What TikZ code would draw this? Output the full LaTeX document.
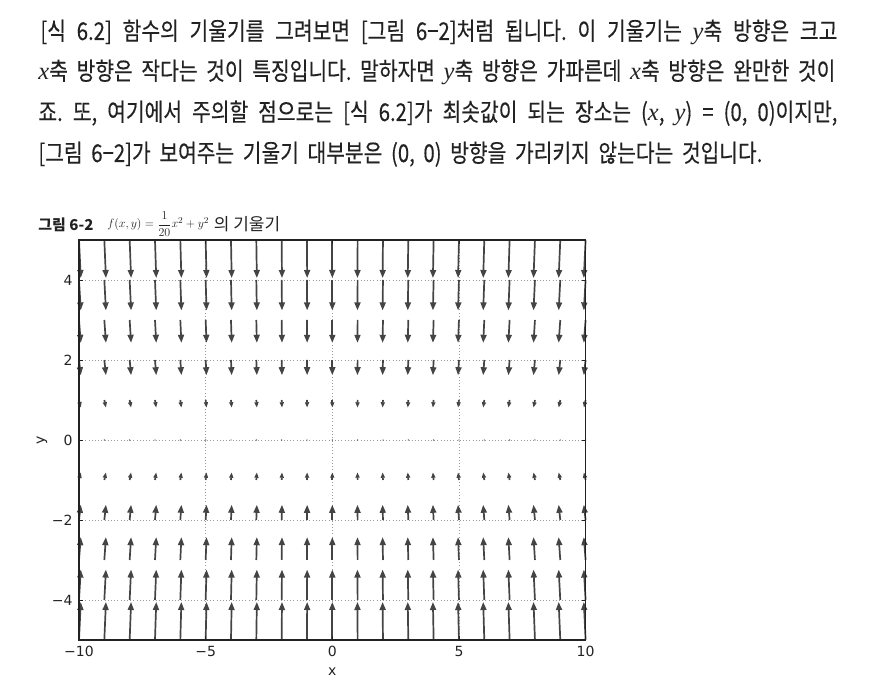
\documentclass[tikz,border=0pt]{standalone}
\usepackage{fontspec}
\usepackage{amsmath}
\usetikzlibrary{arrows.meta,positioning}
\newfontfamily\kr{Noto Sans CJK KR}[FakeStretch=0.83, FakeBold=0.3]
\newfontfamily\krcap{Noto Sans CJK KR}
\newfontfamily\mpl{DejaVu Sans}
\newfontfamily\lserif{Liberation Serif}
\newcommand\mvar[1]{{\lserif\itshape #1}}
\definecolor{ink}{HTML}{222222}
\definecolor{quiv}{HTML}{444444}
\definecolor{gridc}{HTML}{9A9A9A}
\frenchspacing

\begin{document}
\begin{tikzpicture}[x=1pt, y=1pt, line width=0.8pt,
    body/.style={anchor=base west, inner sep=0pt, text=ink, font=\kr\fontsize{24.5}{28}\selectfont},
    tl/.style={inner sep=0pt, text=ink, font=\mpl\fontsize{14}{16}\selectfont},
    gridl/.style={gridc, line width=0.9pt, dash pattern=on 1pt off 2.2pt},
    quiver/.style={quiv, line width=1.7pt}]
  \useasboundingbox (0,0) rectangle (877,692);

  % paragraph
  \node[body] (l1) at (40,652) {\makebox[797pt][s]{[식 6.2] 함수의 기울기를 그려보면 [그림 6−2]처럼 됩니다. 이 기울기는 \mvar{y}축 방향은 크고}};
  \node[body] (l2) at (38,612) {\makebox[797pt][s]{\mvar{x}축 방향은 작다는 것이 특징입니다. 말하자면 \mvar{y}축 방향은 가파른데 \mvar{x}축 방향은 완만한 것이}};
  \node[body] (l3) at (38,571) {\makebox[799pt][s]{죠. 또, 여기에서 주의할 점으로는 [식 6.2]가 최솟값이 되는 장소는 (\mvar{x}, \mvar{y}) = (0, 0)이지만,}};
  \node[body] (l4) at (38,530) {\makebox[724pt][s]{[그림 6−2]가 보여주는 기울기 대부분은 (0, 0) 방향을 가리키지 않는다는 것입니다.}};

  % caption
  \node[anchor=base west, inner sep=0pt, text=ink, font=\krcap\bfseries\fontsize{15}{18}\selectfont] (fig) at (38,461) {그림 6-2};
  \node[right=13pt of fig.base east, anchor=base west, yshift=3pt, inner sep=0pt, text=ink, font=\fontsize{12.2}{14}\selectfont] (eq) {$f(x,y)=\dfrac{1}{20}x^2+y^2$};
  \node[right=4pt of eq.base east, anchor=base west, yshift=-3pt, inner sep=0pt, text=ink, font=\krcap\fontsize{17}{20}\selectfont] (cap) {의 기울기};

  % plot, data coordinates
  \begin{scope}[shift={(332.3,252)}, x=25.33pt, y=40pt]
    \foreach \t in {-5,0,5} \draw[gridl] (\t,-5) -- (\t,5);
    \foreach \t in {-4,-2,0,2,4} \draw[gridl] (-10,\t) -- (10,\t);

    \foreach \i in {-10,...,10}{
      \foreach \j in {-5,...,5}{
        \ifnum\j=0
          \fill[quiv] (\i,0) circle (0.7pt);
        \else
          \pgfmathsetmacro\len{sqrt((0.18*\i)^2+(7.6*\j)^2)}
          \pgfmathsetmacro\hl{min(8,0.7*\len)}
          \pgfmathsetmacro\hw{0.75*\hl}
          \draw[quiver, -{Triangle[length=\hl pt, width=\hw pt]}] (\i,\j) -- ++(-0.007*\i,-0.19*\j);
        \fi
      }
    }

    \draw[ink, line width=1.4pt] (-10,-5) rectangle (10,5);
    \foreach \t in {-10,-5,0,5,10}{
      \draw[ink] (\t,-5) -- ++(0,4pt);
      \draw[ink] (\t,5) -- ++(0,-4pt);
    }
    \foreach \t in {-4,-2,0,2,4}{
      \draw[ink] (-10,\t) -- ++(4pt,0);
      \draw[ink] (10,\t) -- ++(-4pt,0);
    }

    \foreach \t/\s in {-10/−10,-5/−5,0/0,5/5,10/10}
      \node[tl, below=6pt] (xt\t) at (\t,-5) {\s};
    \foreach \t/\s in {-4/−4,-2/−2,0/0,2/2,4/4}
      \node[tl, left=6pt] (yt\t) at (-10,\t) {\s};
    \node[tl] (xlab) at (0,-5.8) {x};
    \node[tl, rotate=90] (ylab) at (-11.46,0) {y};
  \end{scope}
\end{tikzpicture}
\end{document}
